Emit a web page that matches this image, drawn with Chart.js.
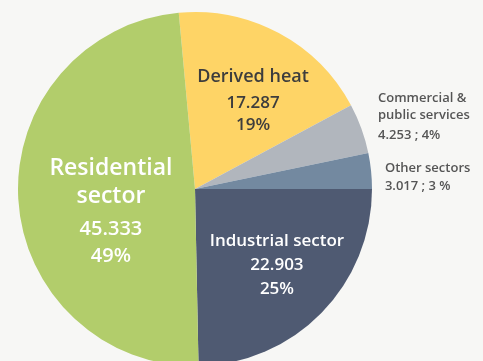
<!DOCTYPE html>
<html><head><meta charset="utf-8">
<script src="https://cdn.jsdelivr.net/npm/chart.js@4"></script>
<style>
html,body{margin:0;padding:0;background:#f7f7f5;overflow:hidden;}
canvas{display:block;}
</style></head>
<body>
<canvas id="c" width="483" height="366"></canvas>
<script>
const categories = ["Derived heat", "Commercial & public services", "Other sectors", "Industrial sector", "Residential sector"];
const values = [17.287, 4.253, 3.017, 22.903, 45.333];
const valueLabels = ["17.287", "4.253", "3.017", "22.903", "45.333"];
const percentLabels = ["19%", "4%", "3 %", "25%", "49%"];
const colors = ["#fed466", "#b1b6bd", "#7389a0", "#4f5a72", "#b2cd6b"];

const total = values.reduce((a, b) => a + b, 0);
// industrial sector begins at 3 o'clock
const rotation = 90 - (values[0] + values[1] + values[2]) / total * 360;

const FF = "'Open Sans', 'Noto Sans', sans-serif";
// label blocks: anchor offset from pie centre (in radius units), lines with baseline dy (px)
const labelBlocks = [
  {dx: 0.328, dy: -0.606, align: "center", lines: [
    {t: categories[0], f: "600 18px " + FF, c: "#3d3d3d", y: 0},
    {t: valueLabels[0], f: "600 17px " + FF, c: "#3d3d3d", y: 26.5},
    {t: percentLabels[0], f: "600 17px " + FF, c: "#3d3d3d", y: 48.5}]},
  {dx: 1.034, dy: -0.494, align: "left", lines: [
    {t: "Commercial &", f: "600 13px " + FF, c: "#555555", y: 0},
    {t: "public services", f: "600 13px " + FF, c: "#555555", y: 17.5},
    {t: valueLabels[1] + " ; " + percentLabels[1], f: "600 13px " + FF, c: "#555555", y: 37.5}]},
  {dx: 1.073, dy: -0.098, align: "left", lines: [
    {t: categories[2], f: "600 13px " + FF, c: "#555555", y: 0},
    {t: valueLabels[2] + " ; " + percentLabels[2], f: "600 13px " + FF, c: "#555555", y: 18.5}]},
  {dx: 0.463, dy: 0.322, align: "center", lines: [
    {t: categories[3], f: "600 17px " + FF, c: "#ffffff", y: 0},
    {t: valueLabels[3], f: "600 17px " + FF, c: "#ffffff", y: 24},
    {t: percentLabels[3], f: "600 17px " + FF, c: "#ffffff", y: 48}]},
  {dx: -0.475, dy: -0.079, align: "center", lines: [
    {t: "Residential", f: "600 23px " + FF, c: "#ffffff", y: 0},
    {t: "sector", f: "600 23px " + FF, c: "#ffffff", y: 28},
    {t: valueLabels[4], f: "600 20px " + FF, c: "#ffffff", y: 60},
    {t: percentLabels[4], f: "600 20px " + FF, c: "#ffffff", y: 87}]}
];

const labelPlugin = {
  id: "sliceLabels",
  afterDatasetsDraw(chart) {
    const ctx = chart.ctx;
    const meta = chart.getDatasetMeta(0);
    meta.data.forEach((arc, i) => {
      const b = labelBlocks[i];
      const r = arc.outerRadius;
      const ax = arc.x + b.dx * r;
      const ay = arc.y + b.dy * r;
      ctx.save();
      ctx.textAlign = b.align;
      ctx.textBaseline = "alphabetic";
      b.lines.forEach(l => {
        ctx.font = l.f;
        ctx.fillStyle = l.c;
        ctx.fillText(l.t, ax, ay + l.y);
      });
      ctx.restore();
    });
  }
};

new Chart(document.getElementById("c"), {
  type: "pie",
  data: {
    labels: categories,
    datasets: [{data: values, backgroundColor: colors, borderWidth: 0}]
  },
  options: {
    responsive: false,
    animation: false,
    devicePixelRatio: 1,
    rotation: rotation,
    layout: {padding: {top: 12, bottom: 0, left: 18, right: 111}},
    plugins: {legend: {display: false}, tooltip: {enabled: false}}
  },
  plugins: [labelPlugin]
});
</script>
</body></html>
